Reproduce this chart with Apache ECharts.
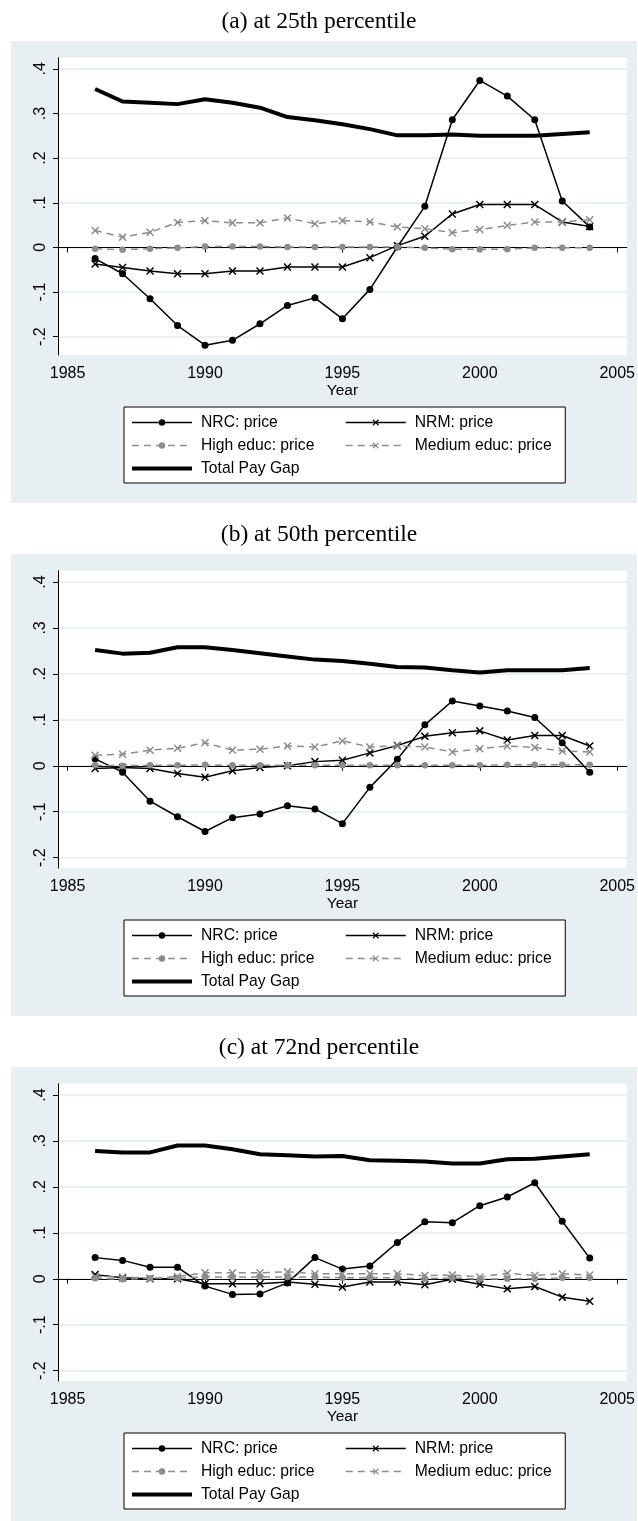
<!DOCTYPE html>
<html>
<head>
<meta charset="utf-8">
<script src="https://cdn.jsdelivr.net/npm/echarts@6/dist/echarts.min.js"></script>
<style>
  html, body { margin: 0; padding: 0; background: #ffffff; }
  #chart { width: 638px; height: 1521px; }
</style>
</head>
<body>
<div id="chart"></div>
<script>
// Survey years shared by all three panels
const years = [1986, 1987, 1988, 1989, 1990, 1991, 1992, 1993, 1994, 1995,
               1996, 1997, 1998, 1999, 2000, 2001, 2002, 2003, 2004];

const panelTitles = ['(a) at 25th percentile', '(b) at 50th percentile', '(c) at 72nd percentile'];
const seriesNames = ['NRC: price', 'NRM: price', 'High educ: price', 'Medium educ: price', 'Total Pay Gap'];
const xAxisTitle = 'Year';
const xTickValues = [1985, 1990, 1995, 2000, 2005];
const yTickValues = [-0.2, -0.1, 0, 0.1, 0.2, 0.3, 0.4];
const yTickLabels = ['-.2', '-.1', '0', '.1', '.2', '.3', '.4'];

// (a) 25th percentile
const nrcP25    = [-0.025, -0.059, -0.115, -0.175, -0.219, -0.208, -0.171, -0.130, -0.113, -0.160,
                   -0.094, 0.001, 0.092, 0.286, 0.374, 0.339, 0.286, 0.104, 0.046];
const nrmP25    = [-0.037, -0.045, -0.053, -0.059, -0.059, -0.053, -0.053, -0.044, -0.044, -0.044,
                   -0.023, 0.004, 0.025, 0.075, 0.096, 0.096, 0.096, 0.057, 0.047];
const highP25   = [-0.003, -0.005, -0.003, -0.001, 0.002, 0.002, 0.002, 0.001, 0.001, 0.001,
                   0.001, 0.001, -0.001, -0.004, -0.004, -0.004, -0.001, -0.001, -0.001];
const mediumP25 = [0.038, 0.023, 0.034, 0.056, 0.060, 0.055, 0.055, 0.066, 0.053, 0.060,
                   0.057, 0.046, 0.042, 0.033, 0.040, 0.049, 0.057, 0.057, 0.062];
const gapP25    = [0.355, 0.327, 0.324, 0.321, 0.332, 0.324, 0.313, 0.292, 0.285, 0.276,
                   0.265, 0.251, 0.251, 0.253, 0.250, 0.250, 0.250, 0.254, 0.258];

// (b) 50th percentile
const nrcP50    = [0.015, -0.014, -0.077, -0.111, -0.143, -0.113, -0.105, -0.087, -0.094, -0.126,
                   -0.047, 0.014, 0.089, 0.141, 0.130, 0.119, 0.105, 0.050, -0.014];
const nrmP50    = [-0.006, -0.004, -0.006, -0.017, -0.025, -0.011, -0.004, 0.000, 0.009, 0.012,
                   0.028, 0.044, 0.064, 0.072, 0.076, 0.056, 0.066, 0.066, 0.043];
const highP50   = [0.001, 0.000, 0.001, 0.001, 0.002, 0.001, 0.001, 0.001, 0.001, 0.001,
                   0.001, 0.001, 0.001, 0.001, 0.001, 0.002, 0.002, 0.002, 0.002];
const mediumP50 = [0.023, 0.025, 0.034, 0.038, 0.050, 0.034, 0.036, 0.043, 0.041, 0.054,
                   0.041, 0.043, 0.041, 0.030, 0.037, 0.043, 0.040, 0.032, 0.030];
const gapP50    = [0.252, 0.244, 0.246, 0.258, 0.258, 0.252, 0.245, 0.238, 0.231, 0.228,
                   0.222, 0.215, 0.214, 0.208, 0.203, 0.208, 0.208, 0.208, 0.213];

// (c) 72nd percentile
const nrcP72    = [0.046, 0.040, 0.025, 0.025, -0.016, -0.034, -0.033, -0.009, 0.046, 0.021,
                   0.028, 0.079, 0.124, 0.122, 0.159, 0.178, 0.209, 0.125, 0.045];
const nrmP72    = [0.009, 0.002, 0.000, 0.000, -0.011, -0.011, -0.011, -0.007, -0.012, -0.018,
                   -0.007, -0.007, -0.013, -0.001, -0.012, -0.022, -0.017, -0.040, -0.049];
const highP72   = [0.001, -0.001, 0.001, 0.001, 0.004, 0.004, 0.004, 0.004, 0.004, 0.002,
                   0.002, 0.002, 0.000, 0.002, -0.001, 0.000, 0.000, 0.002, 0.002];
const mediumP72 = [0.005, 0.004, 0.001, 0.005, 0.013, 0.013, 0.013, 0.015, 0.011, 0.011,
                   0.011, 0.011, 0.007, 0.008, 0.004, 0.012, 0.007, 0.011, 0.008];
const gapP72    = [0.278, 0.275, 0.275, 0.290, 0.290, 0.282, 0.271, 0.269, 0.266, 0.267,
                   0.258, 0.257, 0.255, 0.251, 0.251, 0.260, 0.261, 0.266, 0.271];

const panelSeries = [
  [nrcP25, nrmP25, highP25, mediumP25, gapP25],
  [nrcP50, nrmP50, highP50, mediumP50, gapP50],
  [nrcP72, nrmP72, highP72, mediumP72, gapP72]
];

// ---- presentation ----
const SANS = '"Liberation Sans", Arial, sans-serif';
const SERIF = '"Liberation Serif", "Times New Roman", serif';
const REGION_BG = '#e8eff2';
const GRID_LINE = '#e3ecef';
const GRAY = '#8c8c8c';
const X_MARK = 'path://M0,1.3L1.3,0L5,3.7L8.7,0L10,1.3L6.3,5L10,8.7L8.7,10L5,6.3L1.3,10L0,8.7L3.7,5Z';

const seriesLook = [
  { color: '#000', width: 1.5, type: 'solid', symbol: 'circle', size: 7 },
  { color: '#000', width: 1.5, type: 'solid', symbol: X_MARK, size: 8 },
  { color: GRAY, width: 1.5, type: [7, 5], symbol: 'circle', size: 6.5 },
  { color: GRAY, width: 1.5, type: [7, 5], symbol: X_MARK, size: 8 },
  { color: '#000', width: 4, type: 'solid', symbol: 'none', size: 0 }
];

const panelOffset = [0, 513, 1026];
const yRanges = [[-0.241, 0.425], [-0.2225, 0.4245], [-0.2225, 0.4245]];

const option = {
  animation: false,
  backgroundColor: '#ffffff',
  title: [],
  legend: [],
  grid: [],
  xAxis: [],
  yAxis: [],
  series: [],
  graphic: []
};

function yLabel(v) {
  for (let i = 0; i < yTickValues.length; i++) {
    if (Math.abs(yTickValues[i] - v) < 1e-6) return yTickLabels[i];
  }
  return '';
}

// legend entries: the pay-gap entry is a plain thick line with no marker
const legendEntries = seriesNames.map((name, s) => {
  const look = seriesLook[s];
  if (look.symbol === 'none') {
    return { name, itemStyle: { opacity: 0 }, lineStyle: { width: look.width, color: look.color } };
  }
  return { name, lineStyle: { width: look.width, color: look.color, type: look.type } };
});

panelTitles.forEach((title, p) => {
  const off = panelOffset[p];

  option.graphic.push({
    type: 'rect', z: -10, silent: true,
    shape: { x: 11, y: 41 + off, width: 626, height: 462 },
    style: { fill: REGION_BG }
  });

  option.title.push({
    text: title, left: 'center', top: 5 + off,
    textStyle: { fontFamily: SERIF, fontSize: 23.5, fontWeight: 'normal', color: '#000' }
  });

  option.grid.push({
    left: 58, top: 57.7 + off, width: 572, height: 297.3,
    show: true, backgroundColor: '#ffffff', borderWidth: 0
  });

  option.xAxis.push({
    type: 'value', gridIndex: p,
    min: 1984.65, max: 2005.35,
    name: xAxisTitle, nameLocation: 'middle', nameGap: 28,
    nameTextStyle: { fontFamily: SANS, fontSize: 15.5, color: '#000' },
    axisLine: { show: true, lineStyle: { color: '#000', width: 1 } },
    axisTick: { show: true, length: 5, customValues: xTickValues, lineStyle: { color: '#000' } },
    axisLabel: { customValues: xTickValues, margin: 11, fontFamily: SANS, fontSize: 16, color: '#000',
                 formatter: v => String(v) },
    splitLine: { show: false }
  });

  option.yAxis.push({
    type: 'value', gridIndex: p,
    min: yRanges[p][0], max: yRanges[p][1],
    axisLine: { show: true, lineStyle: { color: '#000', width: 1 } },
    axisTick: { show: true, length: 5, customValues: yTickValues, lineStyle: { color: '#000' } },
    axisLabel: { customValues: yTickValues, rotate: 90, margin: 9, fontFamily: SANS, fontSize: 16,
                 color: '#000', formatter: yLabel },
    splitLine: { show: true, lineStyle: { color: GRID_LINE, width: 1.5 } }
  });

  panelSeries[p].forEach((vals, s) => {
    const look = seriesLook[s];
    option.series.push({
      type: 'line', name: seriesNames[s],
      xAxisIndex: p, yAxisIndex: p,
      data: years.map((yr, i) => [yr, vals[i]]),
      symbol: look.symbol, symbolSize: look.size, showSymbol: look.symbol !== 'none',
      lineStyle: { color: look.color, width: look.width, type: look.type },
      itemStyle: { color: look.color },
      z: 2 + s
    });
  });

  option.legend.push({
    data: legendEntries,
    left: 124, top: 407 + off, width: 430,
    orient: 'horizontal',
    itemWidth: 60, itemHeight: 8, itemGap: 6,
    padding: [7, 12.5, 6, 6],
    backgroundColor: '#ffffff', borderColor: '#000', borderWidth: 1,
    selectedMode: false,
    textStyle: { fontFamily: SANS, fontSize: 15.7, color: '#000', width: 138, lineHeight: 17,
                 padding: [0, 0, 0, 4] }
  });
});

const chart = echarts.init(document.getElementById('chart'), null, { renderer: 'canvas' });
chart.setOption(option);
</script>
</body>
</html>
